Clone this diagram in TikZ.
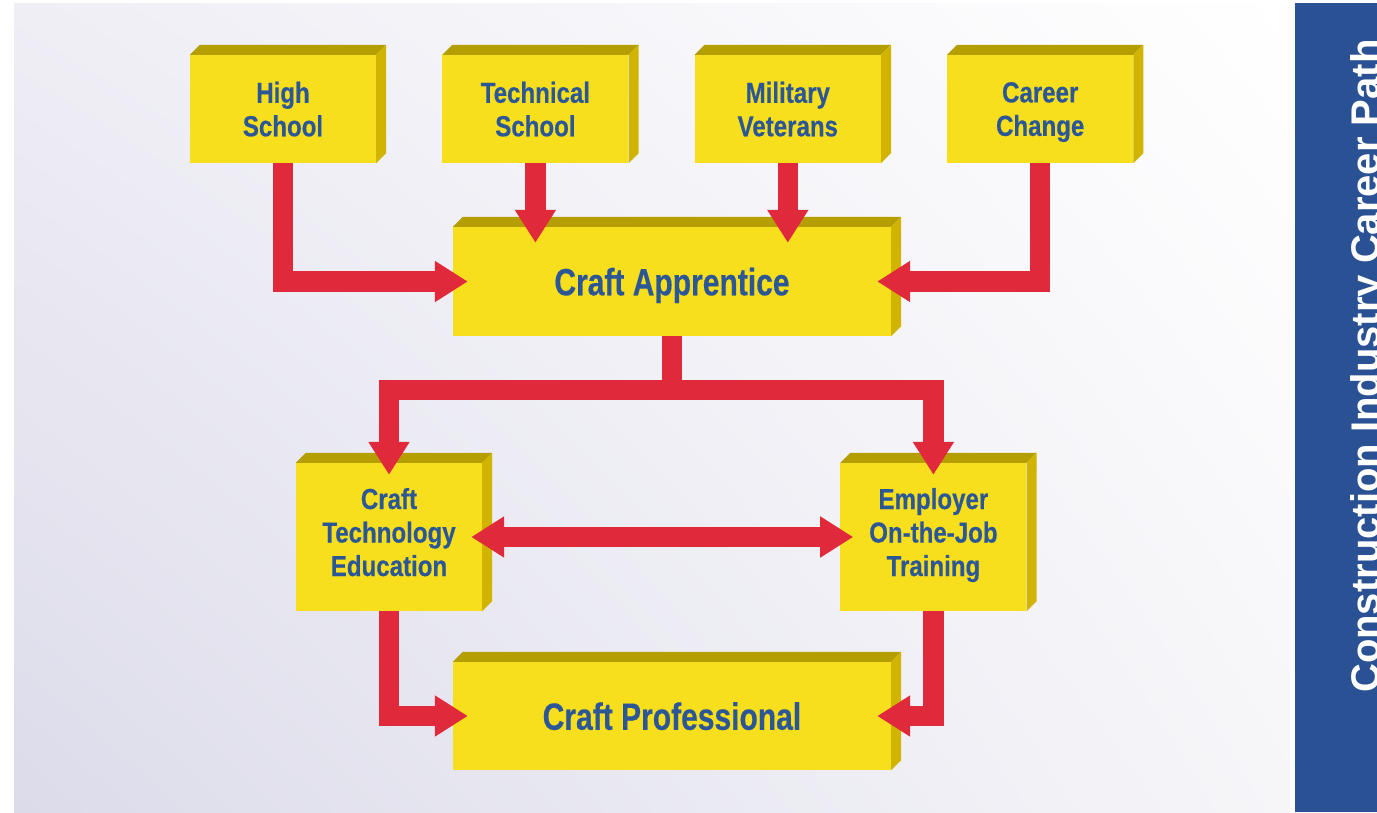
\documentclass[tikz,border=0pt]{standalone}
\usepackage{fontspec}
\usepackage{tikz}
\usetikzlibrary{arrows.meta,positioning,calc,shadings}
\newfontfamily\boxfont[FakeStretch=0.83,FakeBold=0.4]{Liberation Sans}
\newfontfamily\bigboxfont[FakeStretch=0.79,FakeBold=0.4]{Liberation Sans}
\newfontfamily\sidefont{Liberation Sans}
\definecolor{boxyellow}{RGB}{247,223,30}
\definecolor{boxtop}{RGB}{181,158,0}
\definecolor{boxside}{RGB}{209,180,0}
\definecolor{arrowred}{RGB}{224,41,59}
\definecolor{textblue}{RGB}{44,87,151}
\definecolor{barblue}{RGB}{42,81,147}
\definecolor{bgleft}{RGB}{220,219,234}
\definecolor{bgtop}{RGB}{239,238,245}
\definecolor{bgright}{RGB}{246,246,249}

\begin{document}
\begin{tikzpicture}[x=1pt,y=-1pt,
>={Triangle[width=39pt,length=33pt]},
flow/.style={->,draw=arrowred,line width=20.5pt}]
\tikzstyle{block}=[rectangle, fill=boxyellow, inner sep=0pt,
 minimum width=186pt, minimum height=108pt, align=center, text=textblue,
 text depth=0pt, font=\boxfont\bfseries\fontsize{29}{33.5}\selectfont]
\tikzstyle{tall block}=[block, minimum height=148pt, text depth=10pt]
\tikzstyle{wide block}=[block, minimum width=438pt, minimum height=109pt,
 font=\bigboxfont\bfseries\fontsize{38}{44}\selectfont]

\useasboundingbox (0,0) rectangle (1377,812);
\clip (0,0) rectangle (1377,812);

%background
\shade[lower left=bgleft, upper left=bgtop, upper right=white, lower right=bgright]
 (14,3) rectangle (1290,812);
\fill[barblue] (1295,3) rectangle (1377,812);
\node[rotate=90, anchor=base west, inner sep=0pt, text=white,
 font=\sidefont\bfseries\fontsize{40}{44}\selectfont]
 (title) at (1379,693) {Construction Industry Career Path};

%entry points
\node[block] (HS) at (283,109) {High\\School};
\node[block, right=66pt of HS] (TS) {Technical\\School};
\node[block, right=66pt of TS] (MV) {Military\\Veterans};
\node[block, right=66pt of MV] (CC) {Career\\Change};

\node[wide block] (CA) at (672,281.5) {Craft Apprentice};

\node[tall block] (CTE) at (389,537) {Craft\\Technology\\Education};
\node[tall block, right=358pt of CTE] (EJT) {Employer\\On-the-Job\\Training};

\node[wide block, minimum height=108pt] (CP) at (672,716) {Craft Professional};

%3d faces
\foreach \n in {HS,TS,MV,CC,CA,CTE,EJT,CP}{
 \fill[boxtop] (\n.north west) -- ([shift={(10,-10)}]\n.north west)
  -- ([shift={(10,-10)}]\n.north east) -- (\n.north east) -- cycle;
 \fill[boxside] (\n.north east) -- ([shift={(10,-10)}]\n.north east)
  -- ([shift={(10,-10)}]\n.south east) -- (\n.south east) -- cycle;
}

%arrows
\draw[flow, shorten >=-15pt] (HS.south) |- (CA.west);
\draw[flow, shorten >=-16pt] (TS.south) -- (TS.south |- CA.north);
\draw[flow, shorten >=-16pt] (MV.south) -- (MV.south |- CA.north);
\draw[flow, shorten >=-14pt] (CC.south) |- (CA.east);

\draw[flow, shorten >=-12pt] (CA.south) -- ++(0,54) -| (CTE.north);
\draw[flow, shorten >=-12pt] (CA.south) -- ++(0,54) -| (EJT.north);

\draw[flow, <->, shorten <=-11pt, shorten >=-13pt] (CTE.east) -- (EJT.west);

\draw[flow, shorten >=-15pt] (CTE.south) |- (CP.west);
\draw[flow, shorten >=-14pt] (EJT.south) |- (CP.east);

\end{tikzpicture}
\end{document}
